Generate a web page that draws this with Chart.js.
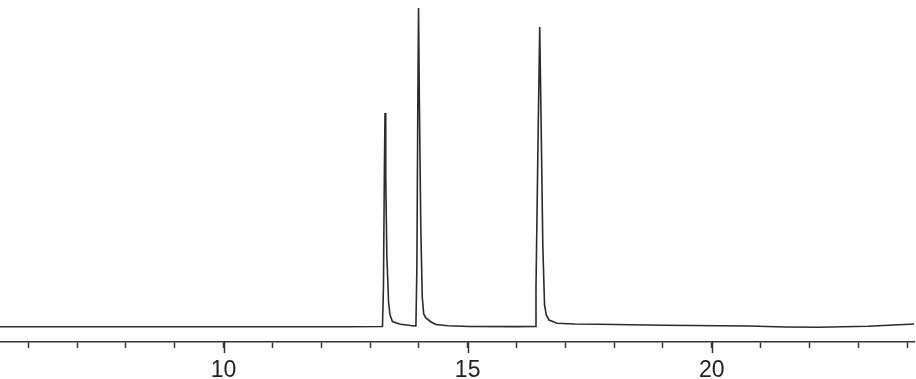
<!DOCTYPE html>
<html>
<head>
<meta charset="utf-8">
<script src="https://cdn.jsdelivr.net/npm/chart.js@4.4.1/dist/chart.umd.min.js"></script>
<style>
  html, body { margin: 0; padding: 0; background: #fff; }
  #wrap { width: 916px; height: 379px; }
</style>
</head>
<body>
<div id="wrap"><canvas id="chroma" width="916" height="379"></canvas></div>
<script>
// retention time (min) and detector signal
const times = [5.42, 8.0, 10.0, 12.5, 13.255, 13.275, 13.295, 13.307, 13.322, 13.345, 13.38, 13.41, 13.46, 13.6, 13.906,
  13.94, 13.96, 13.98, 13.994, 14.01, 14.04, 14.07, 14.10, 14.145, 14.25, 14.35, 14.6, 15.03,
  16.0, 16.38, 16.40, 16.44, 16.476, 16.50, 16.54, 16.575, 16.61, 16.667, 16.83, 17.2, 17.69, 19.0, 20.76, 21.5, 22.19, 23.2, 24.15];
const signal = [0.3, 0.3, 0.2, 0.3, 0.5, 40, 160, 214, 150, 70, 25, 12, 5.5, 3, 1,
  1, 60, 230, 319, 230, 100, 30, 13, 9, 5, 2.5, 1.2, 0.5,
  0.4, 0.5, 40, 180, 300, 220, 80, 22, 12, 7, 3.7, 3, 2.7, 1.8, 1, 0, -0.3, 0.8, 3];

const majorTicks = [10, 15, 20];
const xMin = 5.42, xMax = 24.15;

// longer ticks at the labelled values
const majorTickPlugin = {
  id: 'majorTicks',
  afterDraw(chart) {
    const sc = chart.scales.x;
    const ctx = chart.ctx;
    ctx.save();
    ctx.strokeStyle = '#333';
    ctx.lineWidth = 1.5;
    majorTicks.forEach(v => {
      const px = Math.round(sc.getPixelForValue(v)) + 0.5;
      ctx.beginPath();
      ctx.moveTo(px, sc.top);
      ctx.lineTo(px, sc.top + 11);
      ctx.stroke();
    });
    ctx.restore();
  }
};

const ctx = document.getElementById('chroma').getContext('2d');
new Chart(ctx, {
  type: 'line',
  data: {
    datasets: [{
      data: times.map((t, i) => ({ x: t, y: signal[i] })),
      borderColor: '#2b2b2b',
      borderWidth: 1.6,
      pointRadius: 0,
      tension: 0,
      fill: false
    }]
  },
  options: {
    responsive: false,
    animation: false,
    layout: { padding: 0 },
    plugins: { legend: { display: false }, tooltip: { enabled: false } },
    scales: {
      x: {
        type: 'linear',
        min: xMin,
        max: xMax,
        afterFit(scale) { scale.height = 37; },
        border: { display: true, color: '#333', width: 1.5 },
        grid: { drawOnChartArea: false, drawTicks: true, tickLength: 6, tickColor: '#333', tickWidth: 1.5 },
        ticks: {
          stepSize: 1,
          autoSkip: false,
          maxRotation: 0,
          padding: 9,
          color: '#222',
          font: { family: 'Liberation Sans', size: 23 },
          callback: v => majorTicks.includes(v) ? String(v) : ''
        },
        afterBuildTicks(scale) {
          scale.ticks = [];
          for (let v = 6; v <= 24; v++) scale.ticks.push({ value: v });
        }
      },
      y: {
        display: false,
        min: -15,
        max: 327
      }
    }
  },
  plugins: [majorTickPlugin]
});
</script>
</body>
</html>
